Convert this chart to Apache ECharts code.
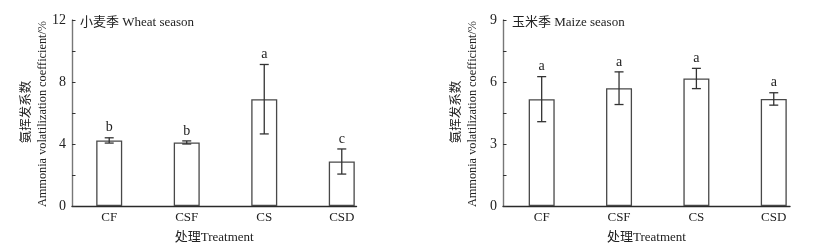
<!DOCTYPE html>
<html><head><meta charset="utf-8">
<script src="https://cdn.jsdelivr.net/npm/echarts@6/dist/echarts.min.js"></script>
<style>html,body{margin:0;padding:0;background:#fff}#c{width:814px;height:249px}</style>
</head><body><div id="c"></div>
<script>
const categories = ['CF', 'CSF', 'CS', 'CSD'];
const wheatMean = [4.23, 4.10, 6.89, 2.87];
const wheatErr = [0.17, 0.10, 2.24, 0.81];
const wheatLetters = ['b', 'b', 'a', 'c'];
const maizeMean = [5.17, 5.70, 6.17, 5.18];
const maizeErr = [1.09, 0.79, 0.49, 0.30];
const maizeLetters = ['a', 'a', 'a', 'a'];
const wheatTicks = [0, 4, 8, 12];
const maizeTicks = [0, 3, 6, 9];

const FONT = '"Liberation Serif","Noto Sans CJK SC",serif';
const txt = '#222';

const chart = echarts.init(document.getElementById('c'), null, {renderer: 'canvas'});

function xAxisDef(gi, min, max) {
  return {
    gridIndex: gi, type: 'value', min: min, max: max,
    axisLine: {show: true, onZero: false, lineStyle: {color: '#2a2a2a', width: 1.4}},
    axisTick: {show: false}, splitLine: {show: false},
    axisLabel: {customValues: [1, 2, 3, 4], formatter: v => categories[Math.round(v) - 1] || '',
      fontFamily: FONT, fontSize: 13, color: txt, margin: 5},
    name: '处理Treatment', nameLocation: 'middle', nameGap: 25,
    nameTextStyle: {fontFamily: FONT, fontSize: 13, color: txt}
  };
}
function yAxisDef(gi, ticks) {
  const step = ticks[1] - ticks[0];
  return {
    gridIndex: gi, type: 'value', min: ticks[0], max: ticks[ticks.length - 1], interval: step / 2,
    axisLine: {show: true, lineStyle: {color: '#777', width: 1.4}},
    axisTick: {show: true, inside: true, length: 3.5, lineStyle: {color: '#333'}},
    splitLine: {show: false},
    axisLabel: {fontFamily: FONT, fontSize: 14, color: txt, margin: 6,
      formatter: v => (Math.abs(v / step - Math.round(v / step)) < 1e-6 ? String(v) : '')}
  };
}
function barSeries(gi, mean) {
  return {
    type: 'bar', xAxisIndex: gi, yAxisIndex: gi, barWidth: 26,
    data: mean.map((v, i) => [i + 1, v]),
    itemStyle: {color: '#fff', borderColor: '#484848', borderWidth: 1.3},
    silent: true, z: 2
  };
}
function errSeries(gi, mean, err, letters) {
  return {
    type: 'custom', xAxisIndex: gi, yAxisIndex: gi, z: 5, silent: true,
    data: mean.map((v, i) => [i + 1, v - err[i], v + err[i], i]),
    renderItem: function (params, api) {
      const x = api.value(0);
      const lo = api.coord([x, api.value(1)]);
      const hi = api.coord([x, api.value(2)]);
      const w = 4.5;
      const st = {stroke: '#333', lineWidth: 1.3};
      return {type: 'group', children: [
        {type: 'line', shape: {x1: lo[0], y1: lo[1], x2: hi[0], y2: hi[1]}, style: st},
        {type: 'line', shape: {x1: lo[0] - w, y1: lo[1], x2: lo[0] + w, y2: lo[1]}, style: st},
        {type: 'line', shape: {x1: hi[0] - w, y1: hi[1], x2: hi[0] + w, y2: hi[1]}, style: st},
        {type: 'text', x: hi[0], y: hi[1] - 3, style: {text: letters[api.value(3)], fill: txt,
          font: '14px ' + FONT, textAlign: 'center', textVerticalAlign: 'bottom'}}
      ]};
    }
  };
}

chart.setOption({
  animation: false,
  backgroundColor: '#fff',
  grid: [
    {left: 72, top: 20, width: 284.5, height: 188},
    {left: 503, top: 20, width: 287, height: 188.5}
  ],
  xAxis: [xAxisDef(0, 0.52, 4.19), xAxisDef(1, 0.5, 4.21)],
  yAxis: [yAxisDef(0, wheatTicks), yAxisDef(1, maizeTicks)],
  series: [
    barSeries(0, wheatMean), errSeries(0, wheatMean, wheatErr, wheatLetters),
    barSeries(1, maizeMean), errSeries(1, maizeMean, maizeErr, maizeLetters)
  ],
  graphic: [
    {type: 'text', left: 80, top: 16, style: {text: '小麦季 Wheat season', font: '13px ' + FONT, fill: txt}},
    {type: 'text', left: 512, top: 16, style: {text: '玉米季 Maize season', font: '13px ' + FONT, fill: txt}},
    {type: 'text', x: 27, y: 112, rotation: Math.PI / 2, style: {text: '氨挥发系数', font: '12.5px ' + FONT, fill: txt, textAlign: 'center', textVerticalAlign: 'middle'}},
    {type: 'text', x: 43, y: 114, rotation: Math.PI / 2, style: {text: 'Ammonia volatilization coefficient/%', font: '12.3px ' + FONT, fill: txt, textAlign: 'center', textVerticalAlign: 'middle'}},
    {type: 'text', x: 457, y: 112, rotation: Math.PI / 2, style: {text: '氨挥发系数', font: '12.5px ' + FONT, fill: txt, textAlign: 'center', textVerticalAlign: 'middle'}},
    {type: 'text', x: 473, y: 114, rotation: Math.PI / 2, style: {text: 'Ammonia volatilization coefficient/%', font: '12.3px ' + FONT, fill: txt, textAlign: 'center', textVerticalAlign: 'middle'}}
  ]
});
</script></body></html>
